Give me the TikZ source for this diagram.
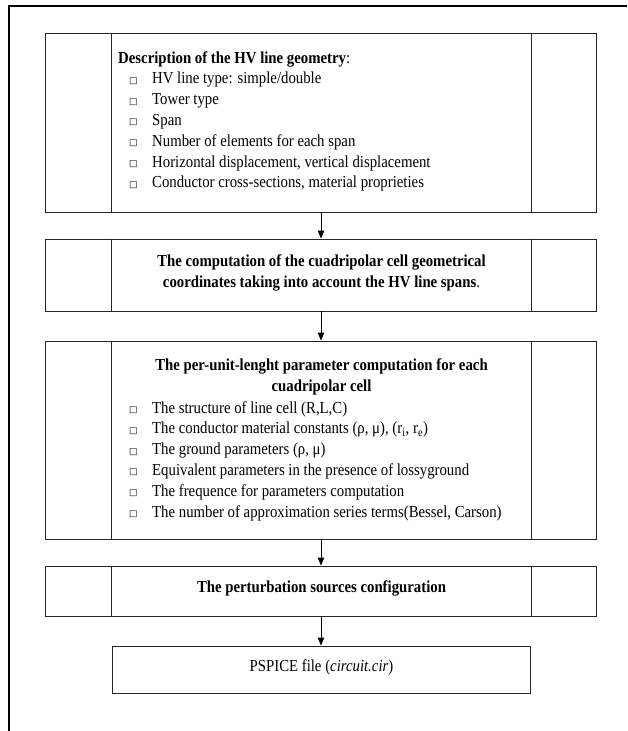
\documentclass[tikz,border=0pt]{standalone}
\usepackage{fontspec}
\setmainfont{Liberation Serif}[FakeStretch=0.88]
\newfontfamily\symfont{DejaVu Sans}
\usetikzlibrary{arrows.meta}
\newcommand{\bul}{\hspace*{11pt}\makebox[23pt][l]{\raisebox{0.5pt}{\symfont\fontsize{9}{9}\selectfont □}}}
\tikzset{
  boxw/.style={draw=black!85, line width=0.9pt, minimum width=551pt, inner sep=0pt},
  pbox/.style={draw=black!85, line width=0.9pt, minimum width=418pt, inner sep=0pt},
  txt/.style={inner sep=0pt, font=\fontsize{16.8}{20.8}\selectfont},
  conn/.style={line width=0.9pt, -{Triangle[length=8pt,width=6.5pt]}},
  frame/.style={line width=2.2pt}
}
\begin{document}
\begin{tikzpicture}[x=1pt,y=-1pt]
\useasboundingbox (0,0) rectangle (627,731);
\draw[frame] (9,731) -- (9,6) -- (627,6);

\node[boxw, minimum height=179pt] (b1) at (320.5,122.5) {};
\node[boxw, minimum height=72pt] (b2) at (320.5,275) {};
\node[boxw, minimum height=198pt] (b3) at (320.5,440) {};
\node[boxw, minimum height=50pt] (b4) at (320.5,591) {};
\node[pbox, minimum height=47pt] (b5) at (321.5,669.5) {};

\foreach \b in {b1,b2,b3,b4}{
  \draw[draw=black!85, line width=0.9pt] ([xshift=67pt]\b.north west) -- ([xshift=67pt]\b.south west);
  \draw[draw=black!85, line width=0.9pt] ([xshift=-65pt]\b.north east) -- ([xshift=-65pt]\b.south east);
}

\node[txt, anchor=north west, align=left] (t1) at (118,51) {\textbf{Description of the HV line geometry}:\\
\bul HV line type: simple/double\\
\bul Tower type\\
\bul Span\\
\bul Number of elements for each span\\
\bul Horizontal displacement, vertical displacement\\
\bul Conductor cross-sections, material proprieties};

\node[txt, align=center] (t2) at (321.5,273) {\textbf{The computation of the cuadripolar cell geometrical}\\
\textbf{coordinates taking into account the HV line spans}.};

\node[txt, align=center] (t3a) at (321.5,377) {\textbf{The per-unit-lenght parameter computation for each}\\
\textbf{cuadripolar cell}};
\node[txt, anchor=north west, align=left] (t3b) at (118,401) {\bul The structure of line cell (R,L,C)\\
\bul The conductor material constants (ρ, μ), (r\textsubscript{i}, r\textsubscript{e})\\
\bul The ground parameters (ρ, μ)\\
\bul Equivalent parameters in the presence of lossyground\\
\bul The frequence for parameters computation\\
\bul The number of approximation series terms(Bessel, Carson)};

\node[txt] (t4) at (321.5,588) {\textbf{The perturbation sources configuration}};
\node[txt] (t5) at (321.5,667) {PSPICE file (\textit{circuit.cir})};

\draw[conn] (b1.south -| 321,0) -- (b2.north -| 321,0);
\draw[conn] (b2.south -| 321,0) -- (b3.north -| 321,0);
\draw[conn] (b3.south -| 321,0) -- (b4.north -| 321,0);
\draw[conn] (b4.south -| 321,0) -- (b5.north -| 321,0);
\end{tikzpicture}
\end{document}
